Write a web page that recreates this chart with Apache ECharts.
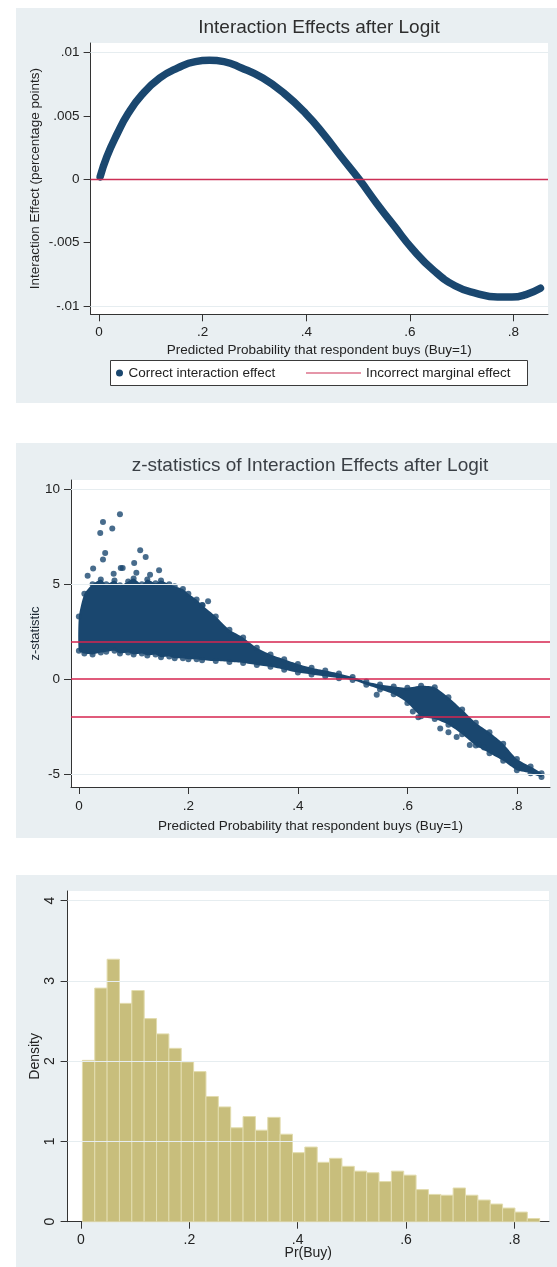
<!DOCTYPE html>
<html>
<head>
<meta charset="utf-8">
<title>Interaction effects after logit</title>
<script src="https://cdn.jsdelivr.net/npm/echarts@6/dist/echarts.min.js"></script>
<style>
html, body { margin: 0; padding: 0; background: #fff; }
#wrap { position: relative; width: 557px; height: 1267px; }
.panel { position: absolute; left: 16px; right: 0; background: #e9eff2; }
#main { position: absolute; left: 0; top: 0; width: 557px; height: 1267px; }
</style>
</head>
<body>
<div id="wrap">
	<div class="panel" style="top:8px;height:395px"></div>
	<div class="panel" style="top:443px;height:395px"></div>
	<div class="panel" style="top:875px;height:392px"></div>
	<div id="main"></div>
</div>
<script>
// top panel - interaction effect along predicted probability
var effectX = [0.002, 0.015, 0.035, 0.056, 0.083, 0.117, 0.152, 0.186, 0.213, 0.241, 0.275, 0.316, 0.357, 0.399,
	0.433, 0.467, 0.502, 0.536, 0.570, 0.605, 0.646, 0.687, 0.728, 0.769, 0.797, 0.824, 0.852];
var effectY = [0.0002, 0.0018, 0.0036, 0.0052, 0.0067, 0.0080, 0.0088, 0.0093, 0.0094, 0.0093, 0.0088, 0.0080, 0.0068, 0.0052,
	0.0036, 0.0018, 0.0000, -0.0019, -0.0037, -0.0055, -0.0072, -0.0084, -0.0090, -0.0093, -0.0093, -0.0091, -0.0086];
var marginalEffect = [0];

// middle panel - z statistics, the dense cloud is given by its edges
var zBandX = [0, 0.01, 0.025, 0.04, 0.05, 0.065, 0.075, 0.09, 0.1, 0.115, 0.125, 0.14, 0.15, 0.165, 0.175, 0.19, 0.2,
	0.215, 0.225, 0.25, 0.275, 0.3, 0.325, 0.35, 0.375, 0.4,
	0.425, 0.45, 0.475, 0.5, 0.525, 0.55, 0.575, 0.6, 0.625, 0.65, 0.675, 0.7, 0.725, 0.75, 0.775, 0.8, 0.825, 0.845];
var zBandHigh = [3.3, 4.5, 5.0, 5.25, 5.0, 5.2, 4.95, 5.15, 5.3, 5.0, 5.25, 5.05, 5.2, 5.0, 4.9, 4.75, 4.5,
	4.2, 3.9, 3.3, 2.6, 2.2, 1.65, 1.3, 1.05, 0.8,
	0.6, 0.45, 0.3, 0.12, -0.12, -0.28, -0.38, -0.45, -0.35, -0.42, -0.95, -1.6, -2.3, -2.8, -3.4, -4.2, -4.6, -4.95];
var zBandLow = [1.5, 1.35, 1.3, 1.4, 1.45, 1.5, 1.35, 1.4, 1.3, 1.35, 1.25, 1.3, 1.15, 1.2, 1.1, 1.1, 1.05,
	1.05, 1.0, 0.95, 0.9, 0.85, 0.75, 0.65, 0.5, 0.35,
	0.25, 0.15, 0.05, -0.05, -0.3, -0.55, -0.8, -1.25, -1.95, -2.1, -2.4, -2.9, -3.5, -3.9, -4.3, -4.8, -4.95, -5.15];
var zOutliers = [
	[0.075, 8.68], [0.044, 8.28], [0.039, 7.70], [0.061, 7.93], [0.048, 6.65], [0.044, 6.30], [0.112, 6.79],
	[0.122, 6.44], [0.101, 6.12], [0.026, 5.83], [0.0765, 5.86], [0.08, 5.86], [0.1465, 5.74], [0.016, 5.45],
	[0.0635, 5.55], [0.105, 5.6], [0.13, 5.5], [0.226, 3.89], [0.236, 4.1], [0.544, -0.82], [0.66, -2.6],
	[0.675, -2.8], [0.69, -3.05], [0.714, -3.47], [0.73, -3.45], [0.74, -3.6], [0.62, -2.0], [0.61, -1.7]
];
var zRefLines = [1.96, 0, -1.96];

// bottom panel - histogram of Pr(Buy)
var binStart = 0.0026;
var binWidth = 0.02281;
var density = [2.01, 2.91, 3.27, 2.72, 2.88, 2.53, 2.34, 2.16, 1.99, 1.87, 1.56, 1.43, 1.17, 1.31, 1.14, 1.30, 1.09,
	0.86, 0.93, 0.74, 0.79, 0.69, 0.63, 0.61, 0.50, 0.63, 0.58, 0.40, 0.34, 0.33, 0.42, 0.33, 0.27, 0.22, 0.17, 0.12, 0.04];

var probTicks = [0, 0.2, 0.4, 0.6, 0.8];
var effectTicks = [-0.01, -0.005, 0, 0.005, 0.01];
var zTicks = [-5, 0, 5, 10];
var densityTicks = [0, 1, 2, 3, 4];

var FONT = '"Liberation Sans", Arial, sans-serif';
var NAVY = '#1a476f';

// stata style numbers: .2 instead of 0.2
function stataNum(v) {
	var s = String(+(+v).toFixed(4));
	return s.replace(/^0\./, '.').replace(/^-0\./, '-.');
}

function axis(grid, min, max, ticks, opt) {
	var a = {
		type : 'value',
		gridIndex : grid,
		min : min,
		max : max,
		axisLine : { show : true, onZero : false, lineStyle : { color : '#333', width : 1 } },
		axisTick : { show : true, length : 7, customValues : ticks, lineStyle : { color : '#333' } },
		axisLabel : { customValues : ticks, formatter : stataNum, color : '#222', fontSize : 13.5, fontFamily : FONT, margin : 11 },
		splitLine : { show : false },
		nameLocation : 'middle',
		nameMoveOverlap : false,
		nameTextStyle : { color : '#222', fontSize : 13.5, fontFamily : FONT }
	};
	for (var k in opt) {
		if (typeof opt[k] === 'object' && a[k]) {
			for (var j in opt[k]) a[k][j] = opt[k][j];
		} else {
			a[k] = opt[k];
		}
	}
	return a;
}

function gridLines(values, skip) {
	return values.filter(function(v) { return v !== skip; }).map(function(v) { return { yAxis : v }; });
}

var effectData = effectX.map(function(x, i) { return [x, effectY[i]]; });
var edgePoints = [];
zBandX.forEach(function(x, i) {
	edgePoints.push([x, zBandHigh[i]]);
	edgePoints.push([x, zBandLow[i]]);
});
var histData = density.map(function(d, i) {
	return [binStart + i * binWidth, binStart + (i + 1) * binWidth, d];
});

var chart = echarts.init(document.getElementById('main'), null, { renderer : 'canvas' });

var option = {
	backgroundColor : 'transparent',
	animation : false,
	title : [ {
		text : 'Interaction Effects after Logit',
		left : 319, top : 18, padding : 0, textAlign : 'center',
		textStyle : { fontSize : 19, fontWeight : 'normal', color : '#2e2e2e', fontFamily : FONT }
	}, {
		text : 'z-statistics of Interaction Effects after Logit',
		left : 310, top : 456, padding : 0, textAlign : 'center',
		textStyle : { fontSize : 19, fontWeight : 'normal', color : '#3a3f45', fontFamily : FONT }
	} ],
	legend : [ {
		data : [ { name : 'Correct interaction effect', icon : 'circle' } ],
		left : 116, top : 365, padding : 0, itemWidth : 8, itemHeight : 7, selectedMode : false,
		textStyle : { fontSize : 13.5, color : '#222', fontFamily : FONT, lineHeight : 16 }
	}, {
		data : [ { name : 'Incorrect marginal effect', icon : 'rect' } ],
		left : 306, top : 365, padding : 0, itemWidth : 55, itemHeight : 1, selectedMode : false,
		textStyle : { fontSize : 13.5, color : '#222', fontFamily : FONT, lineHeight : 16 }
	} ],
	graphic : [ {
		type : 'rect',
		shape : { x : 110.5, y : 360.5, width : 417, height : 25 },
		style : { fill : '#fff', stroke : '#3a3a3a', lineWidth : 1 },
		silent : true
	} ],
	grid : [
		{ left : 90.6, top : 43, width : 457.4, height : 271.3, show : true, backgroundColor : '#fff', borderWidth : 0 },
		{ left : 71, top : 480, width : 479, height : 307, show : true, backgroundColor : '#fff', borderWidth : 0 },
		{ left : 67.6, top : 891, width : 481.4, height : 330.7, show : true, backgroundColor : '#fff', borderWidth : 0 }
	],
	xAxis : [
		axis(0, -0.0164, 0.8666, probTicks, { name : 'Predicted Probability that respondent buys (Buy=1)', nameGap : 29 }),
		axis(1, -0.0144, 0.8605, probTicks, { name : 'Predicted Probability that respondent buys (Buy=1)', nameGap : 32,
			axisLabel : { margin : 12 } }),
		axis(2, -0.0247, 0.8638, probTicks, { name : 'Pr(Buy)', nameGap : 24, axisLabel : { fontSize : 14 },
			nameTextStyle : { fontSize : 14 } })
	],
	yAxis : [
		axis(0, -0.01066, 0.01077, effectTicks, { name : 'Interaction Effect (percentage points)', nameGap : 48 }),
		axis(1, -5.68, 10.49, zTicks, { name : 'z-statistic', nameGap : 29, nameTextStyle : { fontSize : 13, color : '#1e2a36' } }),
		axis(2, 0, 4.12, densityTicks, { name : 'Density', nameGap : 25, axisLabel : { rotate : 90, margin : 10, fontSize : 14 },
			nameTextStyle : { fontSize : 14 } })
	],
	series : [ {
		// faint grid lines, top panel
		type : 'line', xAxisIndex : 0, yAxisIndex : 0, data : [], silent : true, z : 1,
		markLine : { symbol : 'none', silent : true, label : { show : false },
			lineStyle : { color : '#e6edf0', width : 1, type : 'solid' }, data : gridLines(effectTicks, 0) }
	}, {
		name : 'Incorrect marginal effect',
		type : 'line', xAxisIndex : 0, yAxisIndex : 0, data : [], color : '#cc2f55', z : 4,
		markLine : { symbol : 'none', silent : true, label : { show : false },
			lineStyle : { color : '#cc2f55', width : 1.3, type : 'solid' },
			data : marginalEffect.map(function(v) { return { yAxis : v }; }) }
	}, {
		name : 'Correct interaction effect',
		type : 'line', xAxisIndex : 0, yAxisIndex : 0, data : effectData, color : NAVY,
		smooth : true, showSymbol : false, z : 3,
		lineStyle : { width : 7.5, color : NAVY, cap : 'round' }
	}, {
		// middle panel grid + reference lines
		type : 'line', xAxisIndex : 1, yAxisIndex : 1, data : [], silent : true, z : 1,
		markLine : { symbol : 'none', silent : true, label : { show : false },
			lineStyle : { color : '#e6edf0', width : 1, type : 'solid' }, data : gridLines(zTicks, 0) }
	}, {
		type : 'custom', xAxisIndex : 1, yAxisIndex : 1, data : [ [ 0, 0 ] ], silent : true, z : 2,
		renderItem : function(params, api) {
			var pts = [];
			for (var i = 0; i < zBandX.length; i++) pts.push(api.coord([ zBandX[i], zBandHigh[i] ]));
			for (var j = zBandX.length - 1; j >= 0; j--) pts.push(api.coord([ zBandX[j], zBandLow[j] ]));
			return { type : 'polygon', shape : { points : pts, smooth : 0.2 }, style : { fill : NAVY } };
		}
	}, {
		type : 'scatter', xAxisIndex : 1, yAxisIndex : 1, data : zOutliers.concat(edgePoints), silent : true, z : 3,
		symbolSize : 6, itemStyle : { color : NAVY }
	}, {
		type : 'line', xAxisIndex : 1, yAxisIndex : 1, data : [], silent : true, z : 4,
		markLine : { symbol : 'none', silent : true, label : { show : false },
			lineStyle : { color : '#d6244f', width : 1.6, type : 'solid' },
			data : zRefLines.map(function(v) { return { yAxis : v }; }) }
	}, {
		// bottom panel
		type : 'line', xAxisIndex : 2, yAxisIndex : 2, data : [], silent : true, z : 1,
		markLine : { symbol : 'none', silent : true, label : { show : false },
			lineStyle : { color : '#e6edf0', width : 1, type : 'solid' }, data : gridLines(densityTicks, 0) }
	}, {
		type : 'custom', xAxisIndex : 2, yAxisIndex : 2, data : histData, silent : true, z : 2,
		encode : { x : [ 0, 1 ], y : 2 },
		renderItem : function(params, api) {
			var p0 = api.coord([ api.value(0), api.value(2) ]);
			var p1 = api.coord([ api.value(1), 0 ]);
			return {
				type : 'rect',
				shape : { x : p0[0], y : p0[1], width : p1[0] - p0[0], height : p1[1] - p0[1] },
				style : { fill : '#c8be7c', stroke : '#e2dcae', lineWidth : 1 }
			};
		}
	} ]
};

chart.setOption(option);
</script>
</body>
</html>
